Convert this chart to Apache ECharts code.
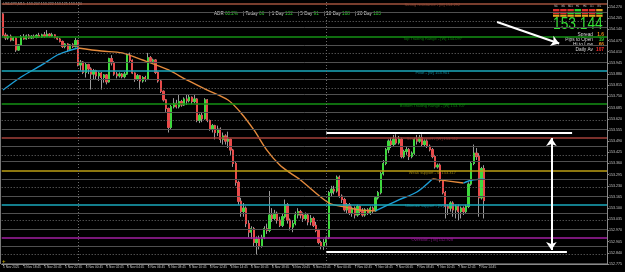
<!DOCTYPE html>
<html>
<head>
<meta charset="utf-8">
<script src="https://cdn.jsdelivr.net/npm/echarts@6/dist/echarts.min.js"></script>
<style>
html, body { margin: 0; padding: 0; background: #000; }
#chart { width: 625px; height: 272px; }
</style>
</head>
<body>
<div id="chart"></div>
<script>
// price scale of the right axis
var priceMin = 152.775;
var priceMax = 154.311;
var priceStep = 0.065;
var slotCount = 234;

// bottom axis labels, one every 8 bars (M15)
var timeLabels = ['5 Nov 2025', '5 Nov 18:45', '5 Nov 20:45', '5 Nov 22:45', '6 Nov 00:45', '6 Nov 02:45',
    '6 Nov 04:45', '6 Nov 06:45', '6 Nov 08:45', '6 Nov 10:45', '6 Nov 12:45', '6 Nov 14:45', '6 Nov 16:45',
    '6 Nov 18:45', '6 Nov 20:45', '6 Nov 22:45', '7 Nov 00:45', '7 Nov 02:45', '7 Nov 04:45', '7 Nov 06:45',
    '7 Nov 08:45', '7 Nov 10:45', '7 Nov 12:45', '7 Nov 14:45'];
var daySeparators = [29, 125];

// candles [open, close, low, high]
var candles5Nov = [
    [154.230, 154.107, 154.100, 154.235], [154.107, 154.090, 154.078, 154.120], [154.090, 154.100, 154.080, 154.110],
    [154.100, 154.078, 154.070, 154.110], [154.078, 154.090, 154.072, 154.096], [154.090, 154.020, 154.009, 154.095],
    [154.020, 154.050, 154.015, 154.055], [154.050, 154.096, 154.045, 154.107], [154.096, 154.085, 154.080, 154.113],
    [154.085, 154.102, 154.080, 154.110], [154.102, 154.090, 154.084, 154.113], [154.090, 154.100, 154.084, 154.107],
    [154.100, 154.093, 154.086, 154.110], [154.093, 154.105, 154.088, 154.112], [154.105, 154.096, 154.090, 154.120],
    [154.096, 154.108, 154.090, 154.115], [154.108, 154.100, 154.092, 154.125], [154.100, 154.112, 154.095, 154.136],
    [154.112, 154.102, 154.094, 154.118], [154.102, 154.108, 154.096, 154.120], [154.108, 154.093, 154.088, 154.112],
    [154.093, 154.084, 154.078, 154.100], [154.084, 154.070, 154.064, 154.090], [154.070, 154.040, 154.032, 154.075],
    [154.040, 154.055, 154.030, 154.060], [154.055, 154.025, 154.009, 154.060], [154.025, 154.050, 154.020, 154.055],
    [154.050, 154.040, 154.032, 154.060], [154.040, 154.075, 154.035, 154.090]
];
var candles6Nov = [
    [154.075, 153.933, 153.925, 154.080], [153.933, 153.950, 153.900, 153.962], [153.950, 153.890, 153.880, 153.955],
    [153.890, 153.935, 153.860, 153.945], [153.935, 153.910, 153.880, 153.940], [153.910, 153.880, 153.790, 153.920],
    [153.880, 153.900, 153.850, 153.910], [153.900, 153.870, 153.850, 153.905], [153.870, 153.886, 153.840, 153.895],
    [153.886, 153.860, 153.790, 153.892], [153.860, 153.875, 153.830, 153.880], [153.875, 153.835, 153.820, 153.880],
    [153.835, 153.970, 153.830, 153.975], [153.970, 153.945, 153.930, 153.990], [153.945, 153.880, 153.870, 153.955],
    [153.880, 153.870, 153.855, 153.892], [153.870, 153.880, 153.860, 153.890], [153.880, 153.865, 153.855, 153.886],
    [153.865, 153.880, 153.855, 153.892], [153.880, 153.990, 153.875, 154.000], [153.990, 153.960, 153.950, 154.005],
    [153.960, 153.886, 153.880, 153.965], [153.886, 153.850, 153.835, 153.890], [153.850, 153.870, 153.840, 153.880],
    [153.870, 153.840, 153.790, 153.875], [153.840, 153.860, 153.830, 153.868], [153.860, 153.850, 153.835, 153.870],
    [153.850, 153.975, 153.845, 154.003], [153.975, 153.955, 153.945, 153.985], [153.955, 153.962, 153.940, 153.970],
    [153.962, 153.890, 153.880, 153.966], [153.890, 153.840, 153.830, 153.895], [153.840, 153.780, 153.770, 153.845],
    [153.780, 153.730, 153.720, 153.785], [153.730, 153.680, 153.660, 153.735], [153.680, 153.570, 153.540, 153.685],
    [153.570, 153.690, 153.560, 153.700], [153.690, 153.710, 153.680, 153.740], [153.710, 153.690, 153.680, 153.730],
    [153.690, 153.720, 153.680, 153.758], [153.720, 153.700, 153.690, 153.730], [153.700, 153.735, 153.695, 153.745],
    [153.735, 153.725, 153.700, 153.760], [153.725, 153.745, 153.715, 153.760], [153.745, 153.720, 153.705, 153.750],
    [153.720, 153.735, 153.710, 153.758], [153.735, 153.610, 153.600, 153.740], [153.610, 153.640, 153.595, 153.650],
    [153.640, 153.620, 153.600, 153.655], [153.620, 153.730, 153.615, 153.740], [153.730, 153.610, 153.600, 153.735],
    [153.610, 153.560, 153.550, 153.615], [153.560, 153.580, 153.540, 153.590], [153.580, 153.540, 153.500, 153.585],
    [153.540, 153.560, 153.520, 153.580], [153.560, 153.500, 153.480, 153.570], [153.500, 153.520, 153.470, 153.540],
    [153.520, 153.490, 153.470, 153.530], [153.490, 153.500, 153.450, 153.545], [153.500, 153.438, 153.410, 153.505],
    [153.438, 153.360, 153.340, 153.445], [153.360, 153.250, 153.230, 153.370], [153.250, 153.140, 153.120, 153.260],
    [153.140, 153.080, 153.050, 153.160], [153.080, 153.100, 153.050, 153.130], [153.100, 153.010, 152.990, 153.110],
    [153.010, 152.960, 152.930, 153.030], [152.960, 152.980, 152.920, 152.995], [152.980, 152.900, 152.880, 152.990],
    [152.900, 152.920, 152.830, 152.935], [152.920, 152.880, 152.860, 152.940], [152.880, 152.930, 152.870, 152.945],
    [152.930, 152.980, 152.920, 152.995], [152.980, 152.970, 152.950, 153.010], [152.970, 153.060, 152.960, 153.200],
    [153.060, 153.040, 153.020, 153.100], [153.040, 153.070, 153.030, 153.090], [153.070, 153.030, 153.010, 153.080],
    [153.030, 153.000, 152.990, 153.050], [153.000, 153.050, 152.990, 153.070], [153.050, 153.120, 153.040, 153.150],
    [153.120, 153.030, 153.010, 153.130], [153.030, 152.990, 152.970, 153.040], [152.990, 153.010, 152.960, 153.030],
    [153.010, 153.060, 153.000, 153.080], [153.060, 153.080, 153.040, 153.100], [153.080, 153.060, 153.040, 153.090],
    [153.060, 153.040, 153.020, 153.075], [153.040, 153.060, 153.030, 153.075], [153.060, 153.020, 153.000, 153.070],
    [153.020, 153.040, 153.000, 153.060], [153.040, 153.000, 152.990, 153.050], [153.000, 152.970, 152.960, 153.020],
    [152.970, 152.900, 152.890, 152.980], [152.900, 152.880, 152.860, 152.910], [152.880, 152.900, 152.857, 152.920]
];
var candles7Nov = [
    [152.900, 152.930, 152.880, 152.940], [152.930, 153.190, 152.920, 153.200], [153.190, 153.210, 153.170, 153.230],
    [153.210, 153.200, 153.180, 153.230], [153.200, 153.280, 153.190, 153.290], [153.280, 153.170, 153.160, 153.290],
    [153.170, 153.150, 153.130, 153.180], [153.150, 153.090, 153.080, 153.160], [153.090, 153.120, 153.070, 153.130],
    [153.120, 153.070, 153.060, 153.130], [153.070, 153.100, 153.050, 153.110], [153.100, 153.060, 153.040, 153.110],
    [153.060, 153.110, 153.050, 153.120], [153.110, 153.080, 153.060, 153.115], [153.080, 153.060, 153.050, 153.100],
    [153.060, 153.090, 153.050, 153.100], [153.090, 153.070, 153.060, 153.100], [153.070, 153.100, 153.060, 153.110],
    [153.100, 153.085, 153.070, 153.110], [153.085, 153.160, 153.080, 153.170], [153.160, 153.190, 153.150, 153.200],
    [153.190, 153.300, 153.180, 153.310], [153.300, 153.360, 153.290, 153.380], [153.360, 153.440, 153.350, 153.450],
    [153.440, 153.490, 153.420, 153.500], [153.490, 153.470, 153.450, 153.510], [153.470, 153.500, 153.460, 153.526],
    [153.500, 153.480, 153.470, 153.530], [153.480, 153.500, 153.470, 153.520], [153.500, 153.400, 153.390, 153.510],
    [153.400, 153.430, 153.390, 153.440], [153.430, 153.440, 153.410, 153.460], [153.440, 153.400, 153.380, 153.450],
    [153.400, 153.420, 153.390, 153.430], [153.420, 153.500, 153.410, 153.510], [153.500, 153.490, 153.470, 153.526],
    [153.490, 153.510, 153.480, 153.526], [153.510, 153.470, 153.460, 153.530], [153.470, 153.490, 153.460, 153.500],
    [153.490, 153.460, 153.450, 153.500], [153.460, 153.440, 153.430, 153.470], [153.440, 153.400, 153.390, 153.450],
    [153.400, 153.340, 153.330, 153.410], [153.340, 153.350, 153.330, 153.360], [153.350, 153.260, 153.250, 153.360],
    [153.260, 153.190, 153.180, 153.270], [153.190, 153.110, 153.040, 153.200], [153.110, 153.100, 153.060, 153.120],
    [153.100, 153.130, 153.080, 153.140], [153.130, 153.090, 153.050, 153.140], [153.090, 153.110, 153.040, 153.120],
    [153.110, 153.080, 153.030, 153.120], [153.080, 153.100, 153.040, 153.110], [153.100, 153.080, 153.060, 153.110],
    [153.080, 153.110, 153.070, 153.120], [153.110, 153.240, 153.100, 153.250], [153.240, 153.360, 153.230, 153.370],
    [153.360, 153.420, 153.350, 153.470], [153.420, 153.400, 153.380, 153.450], [153.400, 153.160, 153.050, 153.420],
    [153.160, 153.330, 153.150, 153.340], [153.330, 153.144, 153.040, 153.350]
];

// moving average, rising parts blue and falling parts orange: [bar, price]
var maUp1 = [[0, 153.787], [7, 153.863], [15, 153.933], [21, 153.991], [25, 154.014], [29, 154.032]];
var maDown1 = [[29, 154.032], [38, 154.014], [46, 154.003], [54, 153.962], [64, 153.904], [71, 153.846],
    [79, 153.787], [87, 153.729], [92, 153.654], [97, 153.555], [102, 153.438], [107, 153.351], [111, 153.305],
    [115, 153.264], [126, 153.130], [132, 153.107], [138, 153.089], [144, 153.084]];
var maUp2 = [[144, 153.084], [153, 153.148], [160, 153.194], [166, 153.270]];
var maDown2 = [[166, 153.270], [168, 153.266], [178, 153.246]];
var maUp3 = [[178, 153.246], [181, 153.262], [186, 153.270]];

// support / resistance levels
var levelNames = ['Strong resistance - [M]', 'Top Trading Range - [W]', 'Pivot - [W]', 'Bottom Trading Range - [W]',
    'Strong support - [W]', 'Weak support - M', 'Ultimate support - [W]', 'Oversold - [ M]'];
var levelPrices = [154.292, 154.097, 153.901, 153.707, 153.512, 153.317, 153.123, 152.928];
var levelLabelBar = 166;

// hand drawn objects: [bar, price]
var rangeTop = [[125, 153.536], [220, 153.536]];
var rangeBottom = [[125, 152.848], [218, 152.848]];
var rangeArrow = [[212, 153.508], [212, 152.857]];
var pointerArrow = [[191, 154.183], [215, 154.058]];

// info texts
var symbolLine = 'USDJPY,M15  153.207 153.222 153.125 153.144';
var adrLabels = ['ADR', '| Today', '| 1 Day', '| 5 Day', '| 10 Day', '| 20 Day'];
var adrValues = ['60.2%', '66', '132', '91', '108', '103'];
var lastPrice = 153.144;
var infoLabels = ['Spread', 'Pips to Open', 'Hi to Low', 'Daily Av'];
var infoValues = ['1.6', '19', '66', '107'];
var panelFrames = ['M1', 'M5', 'M15', 'H1', 'H4', 'D1', 'W1'];
var panelStates = [
    ['dn', 'dn', 'dn', 'up', 'dn', 'dn', 'mid'],
    ['dn', 'dn', 'up', 'up', 'dn', 'dn', 'up'],
    ['mid', 'mid', 'mid', 'mid', 'mid', 'mid', 'mid']
];

var allCandles = candles5Nov.concat(candles6Nov, candles7Nov);
var categories = [];
for (var i = 0; i < slotCount; i++) categories.push(String(i));

var wickData = allCandles.map(function (c) { return [c[0], c[1], c[2], c[3]]; });
var bodyData = allCandles.map(function (c) {
    return [c[0], c[1], Math.min(c[0], c[1]), Math.max(c[0], c[1])];
});

var levelColors = ['#a0523d', '#149214', '#1aa8bd', '#149214', '#a3413a', '#bd9f14', '#1aa8bd', '#a21fa2'];
var levelLines = [];
var levelLabels = [];
levelPrices.forEach(function (p, k) {
    levelLines.push({ yAxis: p, lineStyle: { color: levelColors[k], width: 1.6, type: 'solid' } });
    levelLabels.push({ value: [levelLabelBar, p], name: levelNames[k] + ' ' + p.toFixed(3), color: levelColors[k] });
    var step = k < levelPrices.length - 1 ? p - levelPrices[k + 1] : levelPrices[k - 1] - p;
    for (var q = 1; q <= 3; q++) {
        levelLines.push({
            yAxis: p - step * q / 4,
            lineStyle: { color: q === 2 ? '#707070' : '#505050', width: 1, type: q === 2 ? [1, 2] : 'solid' }
        });
    }
});

var sepLines = daySeparators.map(function (b) {
    return { xAxis: b, lineStyle: { color: '#6a6a6a', width: 1, type: [1, 2] } };
});

function showLabel(idx) {
    return idx % 8 === 0 && idx / 8 < timeLabels.length;
}

var font = 'Liberation Sans';
var stateColor = { up: '#2fd32f', dn: '#e02c2c', mid: '#e8a020' };

var graphics = [
    { type: 'text', left: 3, top: 2, style: { text: symbolLine, fill: '#bdbdbd', font: '3.6px ' + font } },
    { type: 'rect', shape: { x: 0, y: 0, width: 1, height: 264 }, style: { fill: '#7a7a7a' } },
    { type: 'text', x: 2, y: 258, style: { text: '+', fill: '#b8a000', font: 'bold 6px ' + font } }
];
var adrRich = '';
for (var a = 0; a < adrLabels.length; a++) {
    adrRich += '{l|' + adrLabels[a] + ' }{v|' + adrValues[a] + '}    ';
}
graphics.push({
    type: 'text', left: 214, top: 11,
    style: {
        text: adrRich, font: '4.6px ' + font,
        rich: { l: { fill: '#d0d0d0', font: '4.6px ' + font }, v: { fill: '#32cd32', font: '4.6px ' + font } }
    }
});
graphics.push({
    type: 'text', x: 553, y: 17, scaleX: 0.86,
    style: { text: lastPrice.toFixed(3), fill: '#33e033', font: '16px ' + font }
});
var infoColors = ['#f08c1c', '#2fd32f', '#f08c1c', '#ff2a2a'];
infoLabels.forEach(function (t, k) {
    graphics.push({ type: 'text', x: 593, y: 32 + k * 5, style: { text: t, fill: '#d8d8d8', font: '4.8px ' + font, align: 'right' } });
    graphics.push({ type: 'text', x: 604, y: 32 + k * 5, style: { text: infoValues[k], fill: infoColors[k], font: 'bold 4.8px ' + font, align: 'right' } });
});
panelFrames.forEach(function (t, c) {
    graphics.push({ type: 'text', x: 556 + c * 7.2, y: 5, style: { text: t, fill: '#cfcfcf', font: '2.6px ' + font, align: 'center' } });
    panelStates.forEach(function (row, r) {
        graphics.push({
            type: 'rect', shape: { x: 553 + c * 7.2, y: 9 + r * 2.8, width: 6.4, height: 2.2 },
            style: { fill: stateColor[row[c]] }
        });
    });
});

var chartDom = document.getElementById('chart');
var myChart = echarts.init(chartDom);
var option;

option = {
    backgroundColor: '#000000',
    animation: false,
    textStyle: { fontFamily: font },
    grid: { left: 0, right: 15, top: 0, bottom: 8 },
    xAxis: {
        type: 'category',
        data: categories,
        boundaryGap: true,
        axisLine: { lineStyle: { color: '#8a8a8a', width: 1 } },
        axisTick: { show: true, alignWithLabel: true, length: 2, interval: showLabel, lineStyle: { color: '#8a8a8a' } },
        axisLabel: {
            interval: showLabel, fontSize: 3.2, color: '#c4c4c4', align: 'left', margin: 2,
            formatter: function (v, idx) { return timeLabels[idx / 8]; }
        },
        splitLine: { show: false }
    },
    yAxis: {
        type: 'value',
        position: 'right',
        min: priceMin,
        max: priceMax,
        interval: priceStep,
        axisLine: { show: true, lineStyle: { color: '#8a8a8a', width: 1 } },
        axisTick: { show: true, length: 2, lineStyle: { color: '#8a8a8a' } },
        axisLabel: {
            fontSize: 3.6, color: '#c4c4c4', margin: 2, showMaxLabel: false,
            formatter: function (v) { return v.toFixed(3); }
        },
        splitLine: { show: false }
    },
    graphic: graphics,
    series: [
        {
            name: 'levels',
            type: 'line',
            data: [],
            z: 1,
            markLine: { silent: true, symbol: 'none', label: { show: false }, data: levelLines.concat(sepLines) }
        },
        {
            name: 'levelText',
            type: 'scatter',
            symbolSize: 0,
            z: 4,
            data: levelLabels,
            label: {
                show: true, position: 'inside', offset: [0, 2], fontSize: 4,
                formatter: function (p) { return p.name; },
                color: 'inherit'
            },
            itemStyle: { color: function (p) { return p.data.color; } }
        },
        {
            name: 'wicks',
            type: 'candlestick',
            data: wickData,
            barWidth: 1.8,
            z: 2,
            itemStyle: { color: 'transparent', color0: 'transparent', borderColor: '#9a9a9a', borderColor0: '#9a9a9a', borderWidth: 1 }
        },
        {
            name: 'bodies',
            type: 'candlestick',
            data: bodyData,
            barWidth: 1.8,
            z: 3,
            itemStyle: { color: '#3dd83d', color0: '#e84a4a', borderColor: '#3dd83d', borderColor0: '#e84a4a', borderWidth: 1 },
            markLine: {
                silent: true, symbol: 'none',
                data: [{
                    yAxis: lastPrice,
                    lineStyle: { opacity: 0 },
                    label: {
                        show: true, position: 'end', distance: 1, formatter: lastPrice.toFixed(3),
                        backgroundColor: '#ffffff', color: '#000000', fontSize: 3.6, padding: [1, 1]
                    }
                }]
            }
        },
        { name: 'maUp1', type: 'line', data: maUp1, smooth: 0.3, showSymbol: false, z: 4, lineStyle: { color: '#1c9fd8', width: 1.4 } },
        { name: 'maDown1', type: 'line', data: maDown1, smooth: 0.3, showSymbol: false, z: 4, lineStyle: { color: '#e48a3c', width: 1.4 } },
        { name: 'maUp2', type: 'line', data: maUp2, smooth: 0.3, showSymbol: false, z: 4, lineStyle: { color: '#1c9fd8', width: 1.4 } },
        { name: 'maDown2', type: 'line', data: maDown2, smooth: 0.3, showSymbol: false, z: 4, lineStyle: { color: '#e48a3c', width: 1.4 } },
        { name: 'maUp3', type: 'line', data: maUp3, smooth: 0.3, showSymbol: false, z: 4, lineStyle: { color: '#1c9fd8', width: 1.4 } },
        {
            name: 'drawings',
            type: 'line',
            data: [],
            z: 6,
            markLine: {
                silent: true,
                label: { show: false },
                lineStyle: { color: '#ffffff', width: 2, type: 'solid' },
                data: [
                    [{ coord: rangeTop[0], symbol: 'none' }, { coord: rangeTop[1], symbol: 'none' }],
                    [{ coord: rangeBottom[0], symbol: 'none' }, { coord: rangeBottom[1], symbol: 'none' }],
                    [{ coord: rangeArrow[0], symbol: 'arrow', symbolSize: 8 }, { coord: rangeArrow[1], symbol: 'arrow', symbolSize: 8 }],
                    [{ coord: pointerArrow[0], symbol: 'none' }, { coord: pointerArrow[1], symbol: 'arrow', symbolSize: 8 }]
                ]
            }
        }
    ]
};

myChart.setOption(option);
</script>
</body>
</html>
